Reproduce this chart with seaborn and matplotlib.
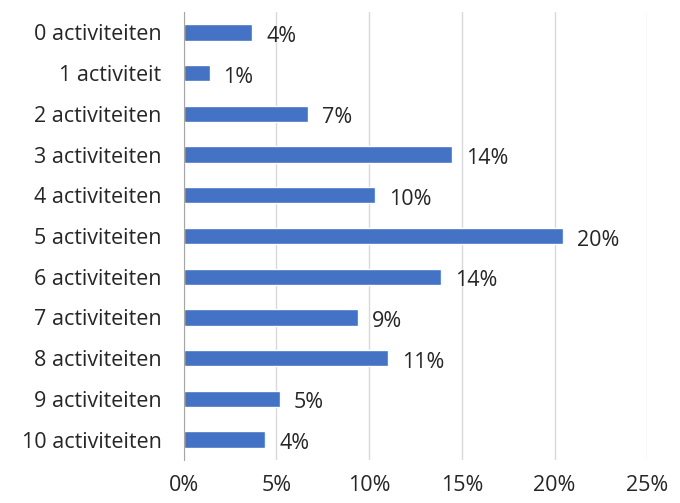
import matplotlib
matplotlib.use("Agg")
import matplotlib.pyplot as plt
import seaborn as sns
import numpy as np
import pandas as pd

# aantal activiteiten en aandeel (%)
categories = ["0 activiteiten", "1 activiteit", "2 activiteiten", "3 activiteiten",
              "4 activiteiten", "5 activiteiten", "6 activiteiten", "7 activiteiten",
              "8 activiteiten", "9 activiteiten", "10 activiteiten"]
shares = [3.7, 1.4, 6.7, 14.45, 10.3, 20.45, 13.9, 9.4, 11.0, 5.2, 4.4]
xticks = [0, 5, 10, 15, 20, 25]

df = pd.DataFrame({"categorie": categories, "aandeel": shares})

sns.set_style("white")
plt.rcParams["font.family"] = ["Open Sans", "DejaVu Sans"]

fig = plt.figure(figsize=(6.8, 5.03), dpi=100)
ax = fig.add_axes([0.27, 0.0855, 0.682, 0.8905])

sns.barplot(data=df, x="aandeel", y="categorie", color="#4472C4", width=0.4,
            saturation=1, ax=ax, orient="h")

for i, v in enumerate(shares):
    ax.text(v + 0.75, i + 0.1, f"{v:.0f}%", va="center", ha="left",
            fontsize=15.5, color="#262626")

ax.set_xlim(0, 25)
ax.set_ylim(len(categories) - 0.5, -0.5)
ax.set_xticks(xticks)
ax.set_xticklabels([f"{t}%" for t in xticks], fontsize=15.5, color="#262626")
ax.tick_params(axis="x", length=0, pad=11)
ax.tick_params(axis="y", which="major", length=0, labelsize=15.5, labelcolor="#262626", pad=16)
ax.set_yticks(np.arange(-0.5, len(categories) + 0.5, 1), minor=True)
ax.tick_params(axis="y", which="minor", length=5, color="#A6A6A6", width=1)
ax.set_xlabel("")
ax.set_ylabel("")

ax.grid(axis="x", color="#D9D9D9", linewidth=1)
ax.set_axisbelow(True)
for s in ["top", "right", "bottom"]:
    ax.spines[s].set_visible(False)
ax.spines["left"].set_color("#A6A6A6")

fig.savefig("out.png", dpi=100)
